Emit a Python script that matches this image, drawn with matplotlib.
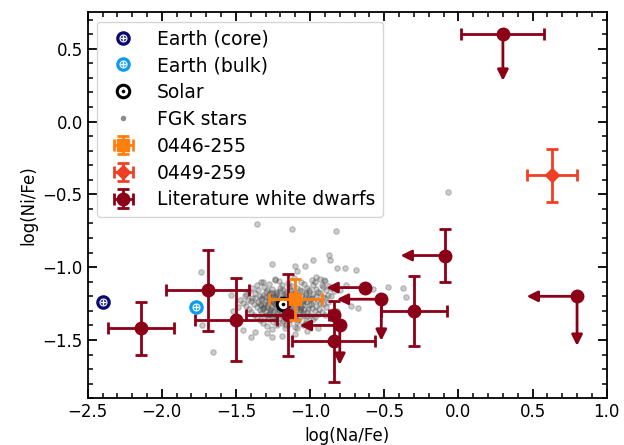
import numpy as np
import matplotlib
matplotlib.use("Agg")
import matplotlib.pyplot as plt
from matplotlib.lines import Line2D
from matplotlib.ticker import MultipleLocator

# ---------------- data ----------------
earth_core_x, earth_core_y = -2.40, -1.24
earth_bulk_x, earth_bulk_y = -1.77, -1.27
solar_x, solar_y = -1.18, -1.25

wd0446_x, wd0446_y, wd0446_xerr, wd0446_yerr = -1.10, -1.22, 0.18, 0.14
wd0449_x, wd0449_y, wd0449_xerr, wd0449_yerr = 0.63, -0.37, 0.17, 0.18

# literature white dwarfs; when *_lim is True the error value is the arrow length
lit_x    = [0.30, -0.09, 0.80, -0.30, -0.52, -0.63, -0.84, -0.80, -0.84, -1.15, -1.50, -1.69, -2.14]
lit_y    = [0.60, -0.92, -1.20, -1.30, -1.22, -1.14, -1.33, -1.40, -1.51, -1.33, -1.36, -1.16, -1.42]
lit_xerr = [0.28, 0.30, 0.34, 0.22, 0.30, 0.26, None, 0.27, 0.28, 0.28, 0.275, 0.28, 0.225]
lit_yerr = [0.32, 0.18, 0.34, 0.24, 0.285, None, None, 0.27, 0.28, 0.28, 0.283, 0.28, 0.18]
lit_xlim = [False, True, True, False, True, True, False, True, False, False, False, False, False]
lit_ylim = [True, False, True, False, True, False, False, True, False, False, False, False, False]

# FGK stars (estimated positions)
fgk_xy = [
    # outliers
    (-1.356, -0.705), (-1.12, -0.735), (-0.826, -0.751), (-1.259, -0.975), (-1.102, -0.991),
    (-1.091, -1.025), (-1.035, -0.991), (-0.983, -0.952), (-0.873, -0.918), (-0.866, -0.952),
    (-0.821, -1.009), (-0.765, -1.009), (-0.69, -1.02), (-0.473, -1.139), (-0.372, -1.146),
    (-0.354, -1.204), (-0.574, -1.153), (-0.724, -1.267), (-0.675, -1.279), (-1.316, -1.101),
    (-1.237, -1.078), (-0.96, -1.07), (-0.905, -1.089), (-1.451, -1.432), (-1.372, -1.444),
    (-1.293, -1.455), (-1.259, -1.478), (-1.192, -1.473), (-1.473, -1.226), (-1.484, -1.272),
    (-1.738, -1.036), (-1.536, -1.192), (-1.727, -1.398), (-1.657, -1.581), (-0.068, -0.486),
    (-0.80, -1.16), (-0.78, -1.22), (-0.82, -1.30), (-0.76, -1.12), (-1.52, -1.30),
    (-1.50, -1.38), (-1.40, -1.48), (-1.10, -1.46), (-1.02, -1.44), (-0.95, -1.42),
    # main cloud
    (-1.24, -1.085), (-1.11, -1.075), (-0.99, -1.09), (-0.93, -1.08),
    (-1.33, -1.105), (-1.21, -1.095), (-1.15, -1.11), (-1.06, -1.10), (-0.97, -1.105), (-0.90, -1.095),
    (-1.36, -1.125), (-1.28, -1.115), (-1.19, -1.12), (-1.12, -1.13), (-1.04, -1.115), (-0.98, -1.125),
    (-0.92, -1.12), (-0.87, -1.13),
    (-1.39, -1.145), (-1.31, -1.135), (-1.26, -1.15), (-1.20, -1.14), (-1.14, -1.135), (-1.09, -1.145),
    (-1.02, -1.14), (-0.96, -1.15), (-0.91, -1.135), (-0.86, -1.145),
    (-1.41, -1.165), (-1.35, -1.155), (-1.29, -1.16), (-1.23, -1.17), (-1.18, -1.155), (-1.13, -1.165),
    (-1.07, -1.16), (-1.01, -1.155), (-0.95, -1.17), (-0.89, -1.16), (-0.84, -1.165),
    (-1.43, -1.185), (-1.37, -1.175), (-1.32, -1.19), (-1.27, -1.18), (-1.22, -1.175), (-1.17, -1.185),
    (-1.12, -1.18), (-1.08, -1.19), (-1.03, -1.175), (-0.98, -1.185), (-0.93, -1.18), (-0.88, -1.19),
    (-1.44, -1.20), (-1.39, -1.21), (-1.34, -1.195), (-1.30, -1.205), (-1.25, -1.20), (-1.21, -1.21),
    (-1.16, -1.195), (-1.11, -1.205), (-1.06, -1.20), (-1.01, -1.21), (-0.96, -1.195), (-0.91, -1.205),
    (-0.86, -1.20),
    (-1.42, -1.225), (-1.37, -1.215), (-1.33, -1.22), (-1.28, -1.23), (-1.24, -1.215), (-1.19, -1.225),
    (-1.15, -1.22), (-1.10, -1.215), (-1.05, -1.23), (-1.00, -1.22), (-0.95, -1.225), (-0.90, -1.215),
    (-1.45, -1.245), (-1.40, -1.235), (-1.35, -1.24), (-1.31, -1.25), (-1.26, -1.235), (-1.22, -1.245),
    (-1.18, -1.24), (-1.13, -1.235), (-1.08, -1.25), (-1.03, -1.24), (-0.98, -1.235), (-0.93, -1.245),
    (-0.88, -1.24),
    (-1.43, -1.265), (-1.38, -1.255), (-1.33, -1.26), (-1.29, -1.27), (-1.24, -1.255), (-1.20, -1.265),
    (-1.15, -1.26), (-1.11, -1.255), (-1.06, -1.27), (-1.01, -1.26), (-0.96, -1.265), (-0.91, -1.255),
    (-1.41, -1.285), (-1.36, -1.275), (-1.32, -1.28), (-1.27, -1.29), (-1.23, -1.275), (-1.18, -1.285),
    (-1.14, -1.28), (-1.09, -1.275), (-1.04, -1.29), (-0.99, -1.28), (-0.94, -1.285), (-0.89, -1.275),
    (-1.40, -1.305), (-1.34, -1.295), (-1.30, -1.30), (-1.25, -1.31), (-1.21, -1.295), (-1.16, -1.305),
    (-1.12, -1.30), (-1.07, -1.295), (-1.02, -1.31), (-0.97, -1.30), (-0.92, -1.305),
    (-1.38, -1.325), (-1.33, -1.315), (-1.28, -1.32), (-1.23, -1.33), (-1.19, -1.315), (-1.14, -1.325),
    (-1.10, -1.32), (-1.05, -1.315), (-1.00, -1.33), (-0.95, -1.32), (-0.90, -1.325),
    (-1.36, -1.345), (-1.31, -1.335), (-1.26, -1.34), (-1.21, -1.35), (-1.17, -1.335), (-1.12, -1.345),
    (-1.07, -1.34), (-1.02, -1.335), (-0.97, -1.345),
    (-1.34, -1.365), (-1.28, -1.355), (-1.23, -1.36), (-1.18, -1.37), (-1.13, -1.355), (-1.08, -1.365),
    (-1.03, -1.36), (-0.98, -1.355),
    (-1.32, -1.385), (-1.25, -1.375), (-1.19, -1.38), (-1.14, -1.39), (-1.09, -1.375), (-1.03, -1.385),
    (-1.29, -1.405), (-1.22, -1.395), (-1.16, -1.40), (-1.10, -1.41), (-1.05, -1.395),
    (-1.26, -1.425), (-1.17, -1.415), (-1.09, -1.42),
    # dense core
    (-1.30, -1.17), (-1.255, -1.175), (-1.205, -1.165), (-1.16, -1.17), (-1.105, -1.175), (-1.055, -1.165),
    (-1.005, -1.17),
    (-1.325, -1.21), (-1.275, -1.215), (-1.235, -1.205), (-1.185, -1.21), (-1.135, -1.215), (-1.085, -1.205),
    (-1.035, -1.21), (-0.985, -1.215),
    (-1.335, -1.25), (-1.285, -1.255), (-1.245, -1.245), (-1.195, -1.25), (-1.145, -1.255), (-1.095, -1.245),
    (-1.045, -1.25), (-0.995, -1.255),
    (-1.315, -1.29), (-1.265, -1.295), (-1.215, -1.285), (-1.165, -1.29), (-1.115, -1.295), (-1.065, -1.285),
    (-1.015, -1.29),
    (-1.29, -1.33), (-1.245, -1.335), (-1.195, -1.325), (-1.15, -1.33), (-1.10, -1.335), (-1.05, -1.325),
    (-1.28, -1.19), (-1.23, -1.19), (-1.18, -1.195), (-1.13, -1.19), (-1.08, -1.195), (-1.03, -1.19),
    (-1.30, -1.23), (-1.25, -1.235), (-1.20, -1.23), (-1.15, -1.235), (-1.10, -1.23), (-1.05, -1.235),
    (-1.31, -1.27), (-1.26, -1.275), (-1.21, -1.27), (-1.16, -1.275), (-1.11, -1.27), (-1.06, -1.275),
    (-1.27, -1.31), (-1.22, -1.315), (-1.17, -1.31), (-1.12, -1.315), (-1.07, -1.31),
]
fgk_x = np.array([p[0] for p in fgk_xy])
fgk_y = np.array([p[1] for p in fgk_xy])

# ---------------- style ----------------
c_lit = "#8b0016"
c_0446 = "#ff7f0e"
c_0449 = "#ef4026"
c_core = "#0a0a6e"
c_bulk = "#0c9bf0"

plt.rcParams["font.family"] = "DejaVu Sans"
plt.rcParams["font.size"] = 12

fig = plt.figure(figsize=(6.24, 4.45), dpi=100)
ax = fig.add_axes([0.1405, 0.105, 0.9723 - 0.1405, 0.9724 - 0.105])

# FGK stars
ax.scatter(fgk_x, fgk_y, s=15, color="0.3", alpha=0.28, linewidths=1, zorder=1)

# Earth symbols
def earth(x, y, col):
    h1, = ax.plot(x, y, "o", color=col, ms=10.5, mew=0, zorder=5)
    h2, = ax.plot(x, y, "o", mfc="none", mec="white", ms=5.0, mew=0.8, zorder=6)
    h3, = ax.plot(x, y, "+", color="white", ms=5.0, mew=1.0, zorder=6)
    return (h1, h2, h3)

h_core = earth(earth_core_x, earth_core_y, c_core)
h_bulk = earth(earth_bulk_x, earth_bulk_y, c_bulk)

# Solar
s1, = ax.plot(solar_x, solar_y, "o", mfc="white", mec="black", ms=9, mew=2.2, zorder=2)
s2, = ax.plot(solar_x, solar_y, "o", color="black", ms=2.6, mew=0, zorder=2)
h_solar = (s1, s2)

# literature white dwarfs
arrow_style = "-|>,head_length=0.4,head_width=0.2"
h_lit = None
for i in range(len(lit_x)):
    x, y = lit_x[i], lit_y[i]
    xe = None if (lit_xlim[i] or lit_xerr[i] is None) else lit_xerr[i]
    ye = None if (lit_ylim[i] or lit_yerr[i] is None) else lit_yerr[i]
    cont = ax.errorbar(x, y, xerr=xe, yerr=ye, fmt="o", color=c_lit, ms=9,
                       elinewidth=2, capsize=4.5, capthick=2, zorder=4)
    if xe is not None and ye is not None and h_lit is None:
        h_lit = cont
    if lit_xlim[i]:
        ax.annotate("", xy=(x - lit_xerr[i], y), xytext=(x, y),
                    arrowprops=dict(arrowstyle=arrow_style, color=c_lit, lw=2,
                                    shrinkA=0, shrinkB=0, mutation_scale=16), zorder=3)
    if lit_ylim[i]:
        ax.annotate("", xy=(x, y - lit_yerr[i]), xytext=(x, y),
                    arrowprops=dict(arrowstyle=arrow_style, color=c_lit, lw=2,
                                    shrinkA=0, shrinkB=0, mutation_scale=16), zorder=3)

h_0446 = ax.errorbar(wd0446_x, wd0446_y, xerr=wd0446_xerr, yerr=wd0446_yerr, fmt="s",
                     color=c_0446, ms=8, elinewidth=2, capsize=4.5, capthick=2, zorder=7)
h_0449 = ax.errorbar(wd0449_x, wd0449_y, xerr=wd0449_xerr, yerr=wd0449_yerr, fmt="D",
                     color=c_0449, ms=7, elinewidth=2, capsize=4.5, capthick=2, zorder=7)

h_fgk = Line2D([], [], ls="", marker="o", color="0.55", ms=4, mew=0)

ax.legend([h_core, h_bulk, h_solar, h_fgk, h_0446, h_0449, h_lit],
          ["Earth (core)", "Earth (bulk)", "Solar", "FGK stars", "0446-255", "0449-259",
           "Literature white dwarfs"], loc="upper left", fontsize=13.5, labelspacing=0.42)

ax.set_xlim(-2.5, 1.0)
ax.set_ylim(-1.9, 0.75)
ax.xaxis.set_major_locator(MultipleLocator(0.5))
ax.xaxis.set_minor_locator(MultipleLocator(0.1))
ax.yaxis.set_major_locator(MultipleLocator(0.5))
ax.yaxis.set_minor_locator(MultipleLocator(0.1))
ax.tick_params(which="both", direction="in", top=True, right=True)
ax.tick_params(which="major", length=6.5, width=1.3)
ax.tick_params(which="minor", length=3.5, width=1.1)
for sp in ax.spines.values():
    sp.set_linewidth(1.3)

ax.set_xlabel("log(Na/Fe)")
ax.set_ylabel("log(Ni/Fe)")

fig.savefig("out.png", dpi=100)
